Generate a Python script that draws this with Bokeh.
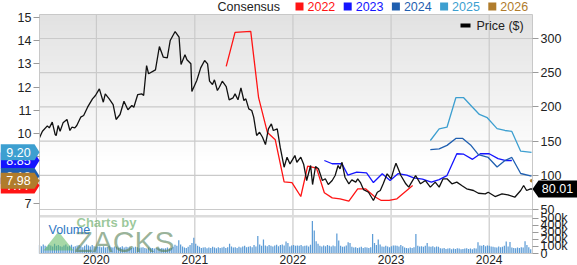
import numpy as np
from datetime import datetime, timedelta
from bokeh.plotting import figure
from bokeh.models import (Range1d, LinearAxis, FixedTicker, Label, NumeralTickFormatter,
                          PolyAnnotation, BoxAnnotation, DatetimeTickFormatter)
from bokeh.embed import file_html
from bokeh.resources import INLINE

# ---------------- data ----------------
price_t = [2019.42, 2019.45, 2019.50, 2019.52, 2019.55, 2019.58, 2019.59, 2019.61, 2019.63, 2019.66,
           2019.70, 2019.73, 2019.75, 2019.78, 2019.80, 2019.84, 2019.87, 2019.91, 2019.96, 2019.99,
           2020.03, 2020.07, 2020.09, 2020.13, 2020.17, 2020.20, 2020.24, 2020.28, 2020.32, 2020.36,
           2020.38, 2020.42, 2020.46, 2020.48, 2020.51, 2020.53, 2020.60, 2020.64, 2020.68, 2020.72,
           2020.75, 2020.80, 2020.84, 2020.86, 2020.90, 2020.92, 2020.96, 2020.97, 2021.02, 2021.06,
           2021.10, 2021.13, 2021.15, 2021.18, 2021.20, 2021.23, 2021.25, 2021.28, 2021.32, 2021.35,
           2021.39, 2021.41, 2021.44, 2021.47, 2021.50, 2021.52, 2021.55, 2021.58, 2021.60, 2021.63,
           2021.66, 2021.69, 2021.72, 2021.75, 2021.78, 2021.80, 2021.84, 2021.87, 2021.91, 2021.94,
           2021.97, 2022.02, 2022.04, 2022.08, 2022.11, 2022.14, 2022.18, 2022.20, 2022.23, 2022.26,
           2022.30, 2022.33, 2022.36, 2022.40, 2022.43, 2022.46, 2022.48, 2022.50, 2022.53, 2022.57,
           2022.60, 2022.64, 2022.66, 2022.69, 2022.72, 2022.77, 2022.82, 2022.86, 2022.89, 2022.92,
           2022.96, 2023.00, 2023.03, 2023.05, 2023.08, 2023.10, 2023.15, 2023.18, 2023.21, 2023.25,
           2023.30, 2023.35, 2023.40, 2023.45, 2023.49, 2023.53, 2023.57, 2023.62, 2023.67, 2023.72,
           2023.77, 2023.84, 2023.89, 2023.96, 2023.99, 2024.06, 2024.13, 2024.19, 2024.26, 2024.32,
           2024.35, 2024.38, 2024.42, 2024.44]
price_v = [154.8, 164.5, 172.3, 169.4, 177.7, 159.6, 158.2, 172.8, 164.5, 176.7,
           181.6, 165.5, 170.3, 169.4, 172.8, 185.0, 187.4, 199.6, 211.8, 216.7,
           226.4, 206.9, 219.1, 211.8, 203.5, 181.6, 188.9, 208.3, 195.8, 202.0,
           199.6, 218.1, 219.1, 216.7, 260.5, 248.4, 254.2, 288.3, 272.7, 271.8,
           297.1, 310.2, 301.9, 262.0, 276.2, 268.9, 263.0, 222.5, 238.6, 257.0,
           267.8, 263.0, 237.6, 232.7, 239.6, 224.0, 228.8, 237.6, 229.8, 210.4,
           213.3, 219.1, 210.4, 227.9, 209.4, 211.8, 197.2, 194.7, 185.0, 158.2,
           163.0, 155.7, 145.0, 168.0, 175.3, 165.5, 168.0, 141.1, 111.8, 126.5,
           116.7, 128.9, 119.1, 126.5, 115.8, 92.4, 114.3, 86.5, 112.9, 109.5,
           92.4, 94.9, 86.5, 92.4, 99.7, 114.3, 109.5, 119.1, 97.2, 87.6,
           93.4, 90.0, 94.9, 88.8, 79.0, 75.3, 63.2, 75.3, 77.8, 87.6,
           102.2, 94.9, 109.5, 117.7, 107.0, 99.7, 87.6, 82.7, 90.0, 99.7,
           87.6, 92.4, 82.7, 90.0, 82.7, 94.9, 94.9, 87.6, 90.0, 85.1,
           80.3, 77.8, 73.8, 72.9, 75.3, 69.0, 72.9, 71.5, 68.0, 77.8,
           85.1, 77.8, 80.3, 80.01]

eps_years = ["2022", "2023", "2024", "2025", "2026"]
eps_colors = ["#ff1414", "#1414ff", "#1f5fb0", "#3d9fd0", "#b07c2c"]
eps_t = [
    [2021.32, 2021.41, 2021.57, 2021.65, 2021.74, 2021.82, 2021.91, 2021.99, 2022.08, 2022.15,
     2022.24, 2022.32, 2022.40, 2022.48, 2022.57, 2022.66, 2022.74, 2022.83, 2022.90, 2022.98,
     2023.06, 2023.12, 2023.22],
    [2022.32, 2022.40, 2022.50, 2022.56, 2022.65, 2022.75, 2022.82, 2022.91, 2022.99, 2023.07,
     2023.16, 2023.23, 2023.32, 2023.41, 2023.49, 2023.57, 2023.67, 2023.74, 2023.83, 2023.91,
     2024.00, 2024.09, 2024.16, 2024.23],
    [2023.40, 2023.49, 2023.57, 2023.66, 2023.73, 2023.81, 2023.89, 2023.99, 2024.08, 2024.16,
     2024.23, 2024.32, 2024.43],
    [2023.40, 2023.49, 2023.57, 2023.66, 2023.74, 2023.83, 2023.90, 2023.98, 2024.08, 2024.16,
     2024.23, 2024.32, 2024.43],
    [2024.43],
]
eps_v = [
    [12.90, 14.36, 14.40, 11.55, 10.05, 9.74, 7.93, 7.90, 7.30, 8.61,
     8.52, 7.46, 7.24, 7.20, 7.10, 7.63, 7.63, 7.30, 7.13, 7.13,
     7.20, 7.42, 7.77],
    [8.85, 8.71, 8.71, 8.22, 8.35, 8.32, 7.90, 8.28, 7.99, 8.28,
     8.22, 8.10, 8.05, 7.92, 8.03, 8.20, 9.14, 9.12, 8.90, 9.14,
     9.14, 8.93, 8.85, 8.85],
    [9.32, 9.35, 9.50, 9.80, 9.80, 9.52, 9.10, 8.98, 8.57, 8.85,
     8.98, 8.29, 8.18],
    [9.71, 10.21, 10.28, 11.55, 11.55, 11.14, 10.83, 10.69, 10.22, 10.14,
     10.10, 9.25, 9.20],
    [7.98],
]

vol_start = 2019.42   # first weekly bar
vol_k = [120, 105, 130, 110, 95, 125, 115, 100, 140, 110, 120, 105, 95, 115, 130, 100, 110, 125, 95, 105,
         115, 120, 100, 90, 110, 130, 115, 100, 120, 105, 95,
         95, 100, 90, 105, 85, 95, 110, 90, 85, 100, 95, 80, 90, 105, 85, 95, 90, 100, 80, 85,
         95, 90, 75, 85, 90, 80, 70, 85, 75, 80,
         70, 80, 75, 65, 80, 70, 75, 85, 70, 80, 95, 125, 110, 190, 130, 100, 85, 80, 95, 120,
         150, 225, 140,
         110, 95, 80, 85, 90, 75, 85, 80, 95, 85, 75, 90, 80, 85, 95, 80, 90,
         140, 100, 85, 90, 80, 95, 85, 100, 110, 90, 95, 105, 90, 120, 100,
         250, 130, 110, 200, 115, 105, 120, 110, 100, 115, 125, 105, 120, 130, 115, 170, 150, 100, 115, 120, 110,
         115, 110, 120, 105, 110, 115, 100, 125,
         465, 330, 175, 140, 110, 100, 115, 105, 120, 110, 100, 115, 105,
         285, 185, 110, 95, 100, 115, 160, 150, 95, 85, 90, 80, 85, 95, 80, 90, 85, 80, 90,
         280, 150, 120, 200, 130, 100, 95, 110, 100, 90, 105, 115,
         115, 110, 100, 120, 105, 85, 80, 75, 85, 80, 90,
         280, 110, 100, 105, 95, 110, 150, 100, 95, 105, 90, 100, 95,
         75, 70, 80, 65, 70, 75, 60, 70, 65, 75, 70, 60, 65, 70, 75, 65, 70, 60, 75, 70,
         160, 115, 110, 120, 105, 115, 110, 100,
         95, 90, 85, 100, 90, 95, 110, 170, 100, 165, 85, 80, 75, 85, 80, 90, 85, 175, 120, 90, 60]

year_ticks = [2020, 2021, 2022, 2023, 2024]
price_ticks = [50, 100, 150, 200, 250, 300]
eps_ticks = [7, 8, 9, 10, 11, 12, 13, 14, 15]
vol_ticks = [0, 100000, 200000, 300000, 400000, 500000]

# plotted-area extents in data units
x_start, x_end = 2019.42, 2024.44
P0, P1 = -14.3, 335.1          # price
E0, E1 = 4.849, 15.129         # consensus EPS
V0, V1 = 0.0, 3414000.0        # volume

# ---------------- layout (pixels) ----------------
W, H = 577, 265
L, R, T, B = 39, 532, 14, 253   # plotted area inside the canvas
FONT = "Liberation Sans"

def to_dt(t):
    y = int(t)
    s, e = datetime(y, 1, 1), datetime(y + 1, 1, 1)
    return s + (e - s) * (t - y)

EPOCH = datetime(1970, 1, 1)
def ms(d):
    return (d - EPOCH).total_seconds() * 1000.0

def extend(lo, hi, a, b, n, flip=False):
    k = (hi - lo) / (b - a)
    if flip:
        return lo - (n - b) * k, hi + a * k
    return lo - a * k, hi + (n - b) * k

def eps_to_price(v):
    # express an EPS value on the (main) price scale, for annotations
    return P0 + (v - E0) / (E1 - E0) * (P1 - P0)

xs_ms, xe_ms = ms(to_dt(x_start)), ms(to_dt(x_end))
cx0, cx1 = extend(xs_ms, xe_ms, L, R, W)
cp0, cp1 = extend(P0, P1, T, B, H, flip=True)
ce0, ce1 = extend(E0, E1, T, B, H, flip=True)
cv0, cv1 = extend(V0, V1, T, B, H, flip=True)

p = figure(width=W, height=H, x_axis_type="datetime", y_axis_location="right",
           x_range=Range1d(cx0, cx1), y_range=Range1d(cp0, cp1),
           output_backend="svg", toolbar_location=None,
           min_border=0, min_border_left=0, min_border_right=0, min_border_top=0, min_border_bottom=0)
p.extra_y_ranges = {"eps": Range1d(ce0, ce1), "vol": Range1d(cv0, cv1)}
p.background_fill_color = "white"
p.border_fill_color = "white"
p.outline_line_color = None
p.grid.visible = False

# background gradient in price panel
n = 128
grad_bottom = 120.0
g = np.linspace(0, 1, n)
vals = (255 - g * 29).astype(np.uint8)
img = np.empty((n, 1), dtype=np.uint32)
view = img.view(dtype=np.uint8).reshape((n, 1, 4))
view[:, :, 0] = vals[:, None]
view[:, :, 1] = vals[:, None]
view[:, :, 2] = vals[:, None]
view[:, :, 3] = 255
p.image_rgba(image=[img], x=xs_ms, y=grad_bottom, dw=xe_ms - xs_ms, dh=P1 - grad_bottom, level="image")

# grid lines limited to the plotted area
year_ms = [ms(datetime(y, 1, 1)) for y in year_ticks]
p.segment(x0=year_ms, x1=year_ms, y0=[P0] * len(year_ms), y1=[P1] * len(year_ms),
          line_color="#cacaca", line_width=1.2, level="underlay")
p.segment(x0=[xs_ms] * len(price_ticks), x1=[xe_ms] * len(price_ticks), y0=price_ticks, y1=price_ticks,
          line_color="#cacaca", line_width=1.2, level="underlay")

# separator between price & volume panel
p.quad(left=[xs_ms], right=[xe_ms], bottom=[515000], top=[550000], y_range_name="vol",
       fill_color="#dcdcdc", line_color=None, level="underlay")

# volume bars
vdates = [to_dt(vol_start) + timedelta(days=7 * i) for i in range(len(vol_k))]
p.vbar(x=vdates, top=[v * 1000 for v in vol_k], width=4.6 * 86400000, y_range_name="vol",
       fill_color="#5d9cd6", line_color=None)

# consensus lines
for yr, c, tt, vv in zip(eps_years, eps_colors, eps_t, eps_v):
    if len(tt) > 1:
        p.line([to_dt(t) for t in tt], vv, y_range_name="eps", line_color=c, line_width=1.3)
    else:
        p.scatter([to_dt(t) for t in tt], vv, y_range_name="eps", color=c, size=2.5)

# price line
p.line([to_dt(t) for t in price_t], price_v, line_color="#111111", line_width=1.3)

# outline of the plotted area
p.quad(left=[xs_ms], right=[xe_ms], bottom=[P0], top=[P1], fill_color=None,
       line_color="#c8c8c8", line_width=1)

# axes (fixed at the plotted-area edges)
px = p.right[0]
px.ticker = FixedTicker(ticks=price_ticks)
px.fixed_location = xe_ms
vx = LinearAxis(y_range_name="vol", ticker=FixedTicker(ticks=vol_ticks),
                formatter=NumeralTickFormatter(format="0a"), fixed_location=xe_ms)
p.add_layout(vx, "right")
ex = LinearAxis(y_range_name="eps", ticker=FixedTicker(ticks=eps_ticks), fixed_location=xs_ms)
p.add_layout(ex, "left")
for ax in (px, vx, ex):
    ax.axis_line_color = None
    ax.major_tick_line_color = "#9a9a9a"
    ax.major_tick_out = 6
    ax.major_tick_in = 0
    ax.minor_tick_line_color = None
    ax.major_label_text_font = FONT
    ax.major_label_text_font_size = "12.5px"
    ax.major_label_text_color = "#222222"
    ax.major_label_standoff = 2

xa = p.below[0]
xa.ticker = FixedTicker(ticks=year_ms)
xa.formatter = DatetimeTickFormatter(years="%Y", months="%Y", days="%Y", hours="%Y")
xa.fixed_location = P0
xa.axis_line_color = None
xa.major_tick_line_color = None
xa.minor_tick_line_color = None
xa.major_tick_out = 0
xa.major_label_standoff = 1
xa.major_label_text_font = FONT
xa.major_label_text_font_size = "12px"
xa.major_label_text_color = "#222222"

# watermark & volume label
p.add_layout(PolyAnnotation(xs=[43, 58, 73], ys=[250, 231, 250], xs_units="canvas", ys_units="canvas",
                            fill_color="#5fb85f", fill_alpha=0.55, line_color=None))
p.add_layout(Label(x=76, y=222, x_units="canvas", y_units="canvas", text="Charts by",
                   text_font=FONT, text_font_size="13px", text_font_style="bold",
                   text_color="#6fb06f", text_alpha=0.7, text_baseline="middle"))
p.add_layout(Label(x=74, y=241, x_units="canvas", y_units="canvas", text="ZACKS",
                   text_font=FONT, text_font_size="30px",
                   text_color="#557f55", text_alpha=0.6, text_baseline="middle"))
p.add_layout(Label(x=48, y=229, x_units="canvas", y_units="canvas", text="Volume",
                   text_font=FONT, text_font_size="12.5px", text_color="#2f78c4", text_baseline="middle"))

# top legend
p.add_layout(Label(x=217, y=6, x_units="canvas", y_units="canvas", text="Consensus",
                   text_font=FONT, text_font_size="12.5px", text_color="#222222", text_baseline="middle"))
for i, (yr, c) in enumerate(zip(eps_years, eps_colors)):
    x0 = 295 + 48.2 * i
    p.add_layout(BoxAnnotation(left=x0, right=x0 + 8, top=2, bottom=10,
                               left_units="canvas", right_units="canvas", top_units="canvas",
                               bottom_units="canvas", fill_color=c, fill_alpha=1, line_color=None))
    p.add_layout(Label(x=x0 + 12, y=6, x_units="canvas", y_units="canvas", text=yr,
                       text_font=FONT, text_font_size="12.5px", text_color=c, text_baseline="middle"))

# price legend
p.add_layout(BoxAnnotation(left=460, right=470, top=23, bottom=27, left_units="canvas",
                           right_units="canvas", top_units="canvas", bottom_units="canvas",
                           fill_color="black", fill_alpha=1, line_color=None))
p.add_layout(Label(x=476, y=25, x_units="canvas", y_units="canvas", text="Price ($)",
                   text_font=FONT, text_font_size="12.5px", text_color="#222222", text_baseline="middle"))

# latest consensus markers on the left (positioned on the price scale)
hp = 8.0 * (P1 - P0) / (B - T)
for yr, c, vv in zip(eps_years, eps_colors, eps_v):
    v = vv[-1]
    yp = eps_to_price(v)
    p.add_layout(PolyAnnotation(xs=[0, 34, 39, 34, 0], ys=[yp + hp, yp + hp, yp, yp - hp, yp - hp],
                                xs_units="canvas", ys_units="data",
                                fill_color=c, fill_alpha=1, line_color=None))
    p.add_layout(Label(x=18, y=yp, x_units="canvas", y_units="data",
                       text=f"{v:.2f}", text_font=FONT, text_font_size="12.5px", text_color="white",
                       text_align="center", text_baseline="middle"))

# last price marker on the right
last = price_v[-1]
hq = 8.5 * (P1 - P0) / (B - T)
p.add_layout(PolyAnnotation(xs=[532, 538, 577, 577, 538], ys=[last, last + hq, last + hq, last - hq, last - hq],
                            xs_units="canvas", ys_units="data",
                            fill_color="black", fill_alpha=1, line_color=None))
p.add_layout(Label(x=557, y=last, x_units="canvas", y_units="data", text=f"{last:.2f}",
                   text_font=FONT, text_font_size="12.5px", text_color="white",
                   text_align="center", text_baseline="middle"))

open("out.html", "w").write(file_html(p, INLINE))
